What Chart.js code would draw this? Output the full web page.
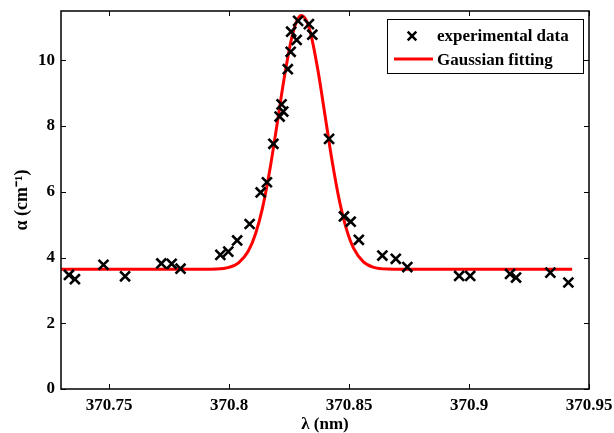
<!DOCTYPE html>
<html><head><meta charset="utf-8">
<script src="https://cdn.jsdelivr.net/npm/chart.js@4.4.1/dist/chart.umd.min.js"></script>
<style>html,body{margin:0;padding:0;background:#fff}</style>
</head><body>
<canvas id="c" width="614" height="433"></canvas>
<script>
// ---- data ----
const expX = [370.7333, 370.7358, 370.7477, 370.7567, 370.7718, 370.7761, 370.7798, 370.7964, 370.7997, 370.8034,
              370.8086, 370.8132, 370.8158, 370.8185, 370.8211, 370.8219, 370.8226, 370.8245, 370.8257, 370.8259,
              370.8282, 370.8288, 370.8333, 370.8347, 370.8417, 370.8479, 370.8507, 370.8541, 370.8639, 370.8695,
              370.8743, 370.8959, 370.9005, 370.9171, 370.9196, 370.9339, 370.9414];
const expY = [3.47, 3.34, 3.78, 3.43, 3.82, 3.81, 3.66, 4.08, 4.18, 4.52,
              5.02, 5.98, 6.29, 7.46, 8.29, 8.66, 8.44, 9.73, 10.26, 10.87,
              10.62, 11.20, 11.10, 10.78, 7.61, 5.25, 5.09, 4.54, 4.06, 3.96,
              3.71, 3.44, 3.44, 3.50, 3.39, 3.54, 3.24];
const fitX = [370.730, 370.780, 370.795, 370.800, 370.804, 370.808, 370.811, 370.814, 370.817, 370.820,
              370.823, 370.826, 370.828, 370.830, 370.832, 370.834, 370.837, 370.840, 370.843, 370.846,
              370.849, 370.852, 370.856, 370.860, 370.866, 370.880, 370.943];
const fitY = [3.64, 3.64, 3.65, 3.70, 3.84, 4.19, 4.71, 5.52, 6.66, 8.04,
              9.46, 10.64, 11.15, 11.36, 11.24, 10.82, 9.72, 8.33, 6.92, 5.73,
              4.85, 4.27, 3.87, 3.71, 3.65, 3.64, 3.64];
const xTicks = [370.75, 370.8, 370.85, 370.9, 370.95];
const xTickLabels = ['370.75', '370.8', '370.85', '370.9', '370.95'];
const yTicks = [0, 2, 4, 6, 8, 10];
const yTickLabels = ['0', '2', '4', '6', '8', '10'];
const seriesNames = ['experimental data', 'Gaussian fitting'];
const xTitle = 'λ (nm)';
const yTitle = 'α (cm⁻¹)';

const FONT = '"Liberation Serif", "Times New Roman", serif';

const toPts = (xs, ys) => xs.map((x, i) => ({x: x, y: ys[i]}));

const bgPlugin = {
  id: 'bg',
  beforeDraw(chart) {
    const c = chart.ctx; c.save(); c.fillStyle = '#fff';
    c.fillRect(0, 0, chart.width, chart.height); c.restore();
  }
};

const framePlugin = {
  id: 'frame',
  afterDraw(chart) {
    const c = chart.ctx, a = chart.chartArea;
    const xs = chart.scales.x, ys = chart.scales.y;
    c.save();
    c.strokeStyle = '#000';
    c.lineWidth = 1;
    const L = 5;
    c.beginPath();
    xTicks.forEach(v => {
      const p = Math.round(xs.getPixelForValue(v)) + 0.5;
      c.moveTo(p, a.bottom); c.lineTo(p, a.bottom - L);
      c.moveTo(p, a.top); c.lineTo(p, a.top + L);
    });
    yTicks.forEach(v => {
      const p = Math.round(ys.getPixelForValue(v)) + 0.5;
      c.moveTo(a.left, p); c.lineTo(a.left + L, p);
      c.moveTo(a.right, p); c.lineTo(a.right - L, p);
    });
    c.stroke();
    c.lineWidth = 1.5;
    c.strokeRect(a.left, a.top, a.right - a.left, a.bottom - a.top);

    // legend box
    const bx = a.right - 202, by = a.top + 8, bw = 196, bh = 54;
    c.fillStyle = '#fff';
    c.fillRect(bx, by, bw, bh);
    c.lineWidth = 1;
    c.strokeStyle = '#000';
    c.strokeRect(bx + 0.5, by + 0.5, bw, bh);
    const ds0 = chart.data.datasets[0], ds1 = chart.data.datasets[1];
    const y1 = by + 18, y2 = by + 42;
    const mx = bx + 25;
    c.strokeStyle = ds0.borderColor; c.lineWidth = 2.5;
    c.beginPath(); c.moveTo(mx - 4.3, y1 - 5.3); c.lineTo(mx + 4.3, y1 + 3.3);
    c.moveTo(mx + 4.3, y1 - 5.3); c.lineTo(mx - 4.3, y1 + 3.3); c.stroke();
    c.strokeStyle = ds1.borderColor; c.lineWidth = 3;
    c.beginPath(); c.moveTo(bx + 7, y2 - 2); c.lineTo(bx + 46, y2 - 2); c.stroke();
    c.fillStyle = '#000';
    c.font = 'bold 17px ' + FONT;
    c.textBaseline = 'middle'; c.textAlign = 'left';
    c.fillText(ds0.label, bx + 50, y1);
    c.fillText(ds1.label, bx + 50, y2);
    c.restore();
  }
};

new Chart(document.getElementById('c'), {
  type: 'scatter',
  data: {
    datasets: [
      {
        label: seriesNames[0],
        data: toPts(expX, expY),
        pointStyle: 'crossRot',
        pointRadius: 7,
        pointBorderWidth: 2.6,
        borderColor: '#000',
        backgroundColor: '#000',
        pointBorderColor: '#000',
        showLine: false
      },
      {
        label: seriesNames[1],
        data: toPts(fitX, fitY),
        showLine: true,
        borderColor: '#ff0000',
        backgroundColor: '#ff0000',
        borderWidth: 3,
        pointRadius: 0,
        cubicInterpolationMode: 'monotone'
      }
    ]
  },
  options: {
    responsive: false,
    animation: false,
    devicePixelRatio: 1,
    layout: {padding: {top: 11, right: 25, left: 0, bottom: 0}},
    plugins: {legend: {display: false}, tooltip: {enabled: false}},
    scales: {
      x: {
        type: 'linear', min: 370.73, max: 370.95,
        afterBuildTicks: s => { s.ticks = xTicks.map(v => ({value: v})); },
        afterFit: s => { s.height = 44; s.paddingLeft = 0; s.paddingRight = 0; },
        grid: {display: false, drawTicks: false},
        border: {display: false},
        ticks: {
          padding: 6, color: '#000', maxRotation: 0, autoSkip: false,
          font: {family: FONT, size: 17, weight: 'bold'},
          callback: v => { const i = xTicks.findIndex(t => Math.abs(t - v) < 1e-6); return i >= 0 ? xTickLabels[i] : ''; }
        },
        title: {display: true, text: xTitle, color: '#000', padding: {top: 0, bottom: 0},
                font: {family: FONT, size: 17, weight: 'bold', lineHeight: 1}}
      },
      y: {
        type: 'linear', min: 0, max: 11.5,
        afterBuildTicks: s => { s.ticks = yTicks.map(v => ({value: v})); },
        afterFit: s => { s.width = 61; s.paddingTop = 0; s.paddingBottom = 0; },
        grid: {display: false, drawTicks: false},
        border: {display: false},
        ticks: {
          padding: 6, color: '#000', autoSkip: false,
          font: {family: FONT, size: 17, weight: 'bold'},
          callback: v => { const i = yTicks.indexOf(v); return i >= 0 ? yTickLabels[i] : ''; }
        },
        title: {display: true, text: yTitle, color: '#000', padding: {top: 12, bottom: 0},
                font: {family: FONT, size: 18, weight: 'bold', lineHeight: 1.2}}
      }
    }
  },
  plugins: [bgPlugin, framePlugin]
});
</script>
</body></html>
